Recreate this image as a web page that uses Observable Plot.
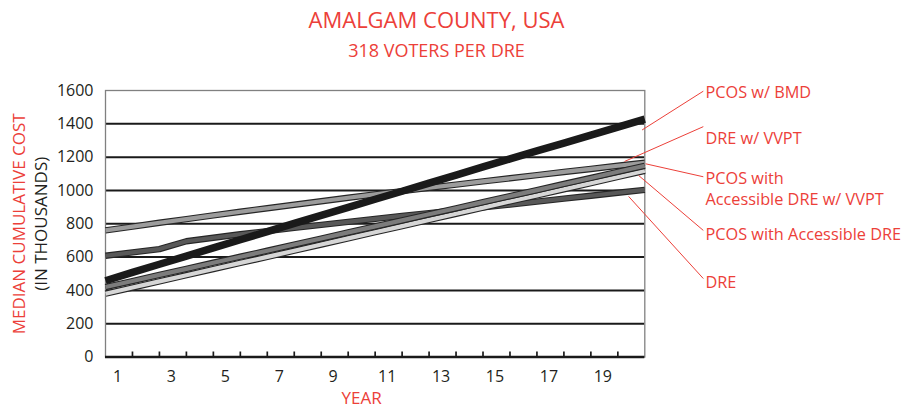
<!DOCTYPE html>
<html><head><meta charset="utf-8">
<script src="https://cdn.jsdelivr.net/npm/d3@7"></script>
<script src="https://cdn.jsdelivr.net/npm/@observablehq/plot@0.6"></script>
<style>
html,body{margin:0;padding:0;background:#fff;}
body{width:907px;height:409px;overflow:hidden;font-family:"Open Sans",sans-serif;}
#head{position:relative;height:62px;}
#head div{position:absolute;left:0;width:873px;text-align:center;line-height:1;color:#ec4039;white-space:nowrap;}
#title{top:8px;font-size:22px;}
#subtitle{top:40.5px;font-size:18px;}
</style></head><body>
<div id="head"><div id="title">AMALGAM COUNTY, USA</div><div id="subtitle">318 VOTERS PER DRE</div></div>
<div id="chart"></div>
<script>
// time points (start of year 1 = 0 ... end of year 20 = 20)
const years = [0,1,2,3,4,5,6,7,8,9,10,11,12,13,14,15,16,17,18,19,20];
// median cumulative cost, thousands
const pcosBmd      = [458,508,557,606,655,704,753,802,850,898,947,995,1044,1092,1141,1189,1237,1284,1332,1380,1428];
const dreVvpt      = [760,783,806,828,850,872,893,914,935,956,976,996,1016,1035,1054,1073,1092,1111,1129,1148,1166];
const pcosAdreVvpt = [420,456,493,529,566,602,638,675,711,748,784,820,857,893,930,966,1002,1039,1075,1112,1148];
const pcosAdre     = [380,417,454,491,528,565,601,638,675,712,749,786,823,860,897,934,970,1007,1044,1081,1118];
const dre          = [608,628,648,695,716,737,756,775,793,811,829,847,864,881,898,915,933,951,968,986,1003];

const seriesNames = ["DRE","DRE w/ VVPT","PCOS with Accessible DRE","PCOS with Accessible DRE w/ VVPT","PCOS w/ BMD"];
const seriesValues = [dre, dreVvpt, pcosAdre, pcosAdreVvpt, pcosBmd];

const yTicks = [0,200,400,600,800,1000,1200,1400,1600];
const gridValues = [200,400,600,800,1000,1200,1400];
const xLabels = [1,3,5,7,9,11,13,15,17,19];
const yearTicks = [1,2,3,4,5,6,7,8,9,10,11,12,13,14,15,16,17,18,19];

// callout labels: text, label anchor (year, value), leader start and end (year, value)
const noteLabels = ["PCOS w/ BMD","DRE w/ VVPT","PCOS with\nAccessible DRE w/ VVPT","PCOS with Accessible DRE","DRE"];
const noteTextY  = [1594,1318,1015,741,456];
const noteFromY  = [1596,1383,1082,760,471];
const noteToX    = [19.9,19.25,20.03,19.77,19.4];
const noteToY    = [1363,1174,1160,1090,964];
const noteTextX = 22.25, noteFromX = 22.17;

const rows = [];
seriesNames.forEach((name,i)=>years.forEach((yr,j)=>rows.push({series:name,year:yr,value:seriesValues[i][j]})));
const notes = noteLabels.map((label,i)=>({label,tx:noteTextX,ty:noteTextY[i],x1:noteFromX,y1:noteFromY[i],x2:noteToX[i],y2:noteToY[i]}));

const W=907,H=347,mT=28,mB=52.5,mL=105,mR=262.7;
const plotH = H-mT-mB;
const RED="#ec4039", INK="#231f20";
const fills = {"DRE":"#585858","DRE w/ VVPT":"#9c9c9c","PCOS with Accessible DRE":"#d6d6d6","PCOS with Accessible DRE w/ VVPT":"#7c7c7c"};

const lineMarks = [];
seriesNames.forEach(name=>{
  const d = rows.filter(r=>r.series===name);
  if (name==="PCOS w/ BMD") {
    lineMarks.push(Plot.line(d,{x:"year",y:"value",stroke:"#1a1a1a",strokeWidth:7.5,strokeLinecap:"butt",strokeLinejoin:"round"}));
  } else {
    lineMarks.push(Plot.line(d,{x:"year",y:"value",stroke:"#262626",strokeWidth:6.4,strokeLinecap:"butt",strokeLinejoin:"round"}));
    lineMarks.push(Plot.line(d,{x:"year",y:"value",stroke:fills[name],strokeWidth:4.2,strokeLinecap:"butt",strokeLinejoin:"round"}));
  }
});

const chart = Plot.plot({
  width:W,height:H,marginTop:mT,marginBottom:mB,marginLeft:mL,marginRight:mR,
  x:{domain:[0,20],axis:null},
  y:{domain:[0,1600],axis:null},
  style:{fontFamily:'"Open Sans", sans-serif',background:"#fff",overflow:"visible"},
  marks:[
    Plot.ruleY(gridValues,{stroke:"#1a1a1a",strokeWidth:2}),
    Plot.frame({stroke:"#808080",strokeWidth:1.3}),
    Plot.ruleX(yearTicks,{insetTop:plotH-5,stroke:"#1a1a1a",strokeWidth:1.7}),
    Plot.ruleY([0],{stroke:"#1a1a1a",strokeWidth:2.6}),
    ...lineMarks,
    Plot.link(notes,{x1:"x1",y1:"y1",x2:"x2",y2:"y2",stroke:RED,strokeWidth:1}),
    Plot.text(notes,{x:"tx",y:"ty",text:"label",textAnchor:"start",lineAnchor:"middle",fill:RED,fontSize:16.3,lineHeight:1.3}),
    Plot.text(yTicks,{y:d=>d,text:d=>String(d),frameAnchor:"left",dx:-12,textAnchor:"end",lineAnchor:"middle",fill:INK,fontSize:16}),
    Plot.text(xLabels,{x:d=>d-0.5,text:d=>String(d),frameAnchor:"bottom",lineAnchor:"middle",dy:20,dx:-1.5,fill:INK,fontSize:16}),
    Plot.text(["MEDIAN CUMULATIVE COST"],{text:d=>d,frameAnchor:"left",textAnchor:"middle",lineAnchor:"middle",dx:-85.5,rotate:-90,fill:RED,fontSize:17}),
    Plot.text(["(IN THOUSANDS)"],{text:d=>d,frameAnchor:"left",textAnchor:"middle",lineAnchor:"middle",dx:-64,rotate:-90,fill:INK,fontSize:17}),
    Plot.text(["YEAR"],{text:d=>d,frameAnchor:"bottom",textAnchor:"middle",lineAnchor:"middle",dx:-13.6,dy:42,fill:RED,fontSize:17})
  ]
});
document.getElementById("chart").appendChild(chart);
</script>
</body></html>
